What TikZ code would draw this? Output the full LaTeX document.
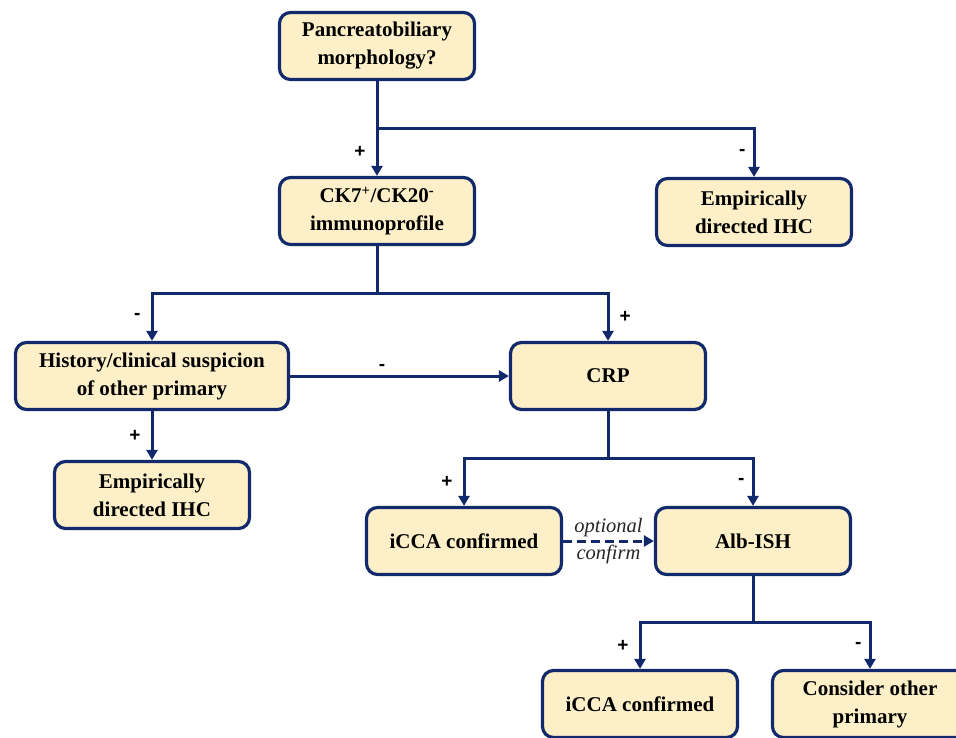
\documentclass[tikz,border=0pt]{standalone}
\usepackage{fontspec}
\setmainfont{Liberation Serif}
\newfontfamily\signfont{Liberation Sans}
\usetikzlibrary{arrows.meta,positioning}
\definecolor{navy}{HTML}{12296B}
\definecolor{cream}{HTML}{FDF0C9}
\tikzset{
  box/.style={rectangle, rounded corners=11pt, draw=navy, fill=cream, line width=3.2pt,
              align=center, inner sep=4pt, minimum width=195pt, minimum height=67pt,
              font=\fontsize{21}{28}\selectfont\bfseries},
  sign/.style={font=\signfont\fontsize{19}{19}\selectfont\bfseries, text=black, inner sep=2pt},
  note/.style={font=\fontsize{20.5}{22}\selectfont\itshape, text=black!85, inner sep=2pt},
  flow/.style={-{Triangle[length=10pt,width=11pt]}, draw=navy, line width=3pt},
  optflow/.style={flow, dash pattern=on 9pt off 5pt}
}

\begin{document}
\begin{tikzpicture}[x=1pt, y=-1pt]
 \useasboundingbox (0,0) rectangle (956,737);

 \node[box] (morph)  at (377,46)  {Pancreatobiliary\\morphology?};
 \node[box] (ckprof) at (377,211) {CK7\textsuperscript{+}/CK20\textsuperscript{-}\\immunoprofile};
 \node[box] (empR)   at (754,212) {Empirically\\directed IHC};
 \node[box, minimum width=273pt] (hist) at (152,376) {History/clinical suspicion\\of other primary};
 \node[box] (crp)    at (608,376) {CRP};
 \node[box] (empL)   at (152,495) {Empirically\\directed IHC};
 \node[box] (iccaA)  at (464,541) {iCCA confirmed};
 \node[box] (albish) at (753,541) {Alb-ISH};
 \node[box] (iccaB)  at (640,704) {iCCA confirmed};
 \node[box] (other)  at (870,704) {Consider other\\primary};

 % branch points
 \coordinate (j1) at (377,128);
 \coordinate (j2) at (377,293);
 \coordinate (j3) at (608,458);
 \coordinate (j4) at (753,622);

 \draw[flow] (morph.south) -- (j1) -| node[sign, pos=0.75, left=5pt] {-} (empR.north);
 \draw[flow] (j1) -- node[sign, left=8pt] {+} (ckprof.north);

 \draw[flow] (ckprof.south) -- (j2) -| node[sign, pos=0.75, right=8pt] {+} (crp.north);
 \draw[flow] (j2) -| node[sign, pos=0.75, left=8pt] {-} (hist.north);

 \draw[flow] (hist.east) -- node[sign, pos=0.42, above=2pt] {-} (crp.west);
 \draw[flow] (hist.south) -- node[sign, left=8pt] {+} (empL.north);

 \draw[flow] (crp.south) -- (j3) -| node[sign, pos=0.75, left=5pt] {-} (albish.north);
 \draw[flow] (j3) -| node[sign, pos=0.75, left=8pt] {+} (iccaA.north);

 \draw[optflow] (iccaA.east) -- node[note, above=1pt] {optional}
                               node[note, below=1pt] {confirm} (albish.west);

 \draw[flow] (albish.south) -- (j4) -| node[sign, pos=0.75, left=8pt] {+} (iccaB.north);
 \draw[flow] (j4) -| node[sign, pos=0.75, left=5pt] {-} (other.north);
\end{tikzpicture}
\end{document}
